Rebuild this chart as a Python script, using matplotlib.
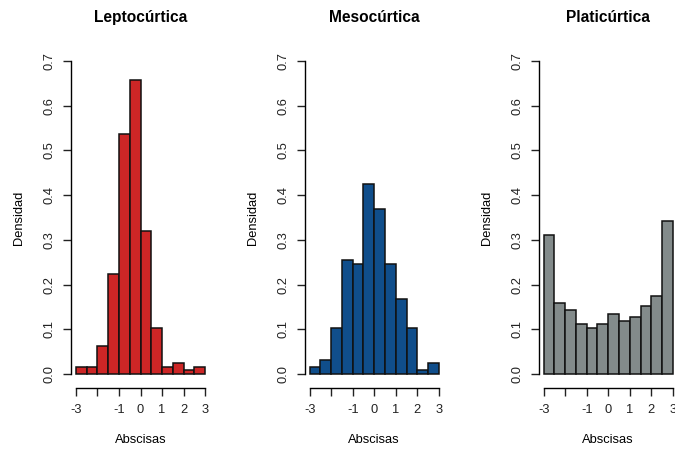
import numpy as np
import matplotlib
matplotlib.use("Agg")
from matplotlib import pyplot as plt

# histogram breaks (width 0.5) and densities
bins = np.arange(-3, 3.01, 0.5)
lepto = [0.016, 0.016, 0.063, 0.224, 0.537, 0.658, 0.320, 0.103, 0.016, 0.024, 0.008, 0.016]
meso = [0.016, 0.032, 0.103, 0.255, 0.247, 0.424, 0.368, 0.247, 0.167, 0.103, 0.008, 0.024]
plati = [0.311, 0.159, 0.143, 0.111, 0.103, 0.111, 0.135, 0.119, 0.127, 0.151, 0.175, 0.343]

titles = ["Leptocúrtica", "Mesocúrtica", "Platicúrtica"]
colors = ["#CD2626", "#104E8B", "#838B8B"]
xticks = [-3, -2, -1, 0, 1, 2, 3]
xlabels = ["-3", "", "-1", "0", "1", "2", "3"]
yticks = [0.0, 0.1, 0.2, 0.3, 0.4, 0.5, 0.6, 0.7]

plt.rcParams['font.family'] = ['Liberation Sans', 'DejaVu Sans']

W, H = 675, 453
fig = plt.figure(figsize=(W / 100, H / 100), dpi=100)

lefts = [70.8, 304.5, 538.5]
width = 139.5
top, bottom = 48.5, 386.5

for i, (vals, title, col) in enumerate(zip([lepto, meso, plati], titles, colors)):
    ax = fig.add_axes([lefts[i] / W, (H - bottom) / H, width / W, (bottom - top) / H])
    ax.bar(bins[:-1], vals, width=0.5, align='edge', color=col,
           edgecolor='#111111', linewidth=1.1)
    ax.set_xlim(-3.24, 3.24)
    ax.set_ylim(-0.028, 0.728)
    for s in ['top', 'right']:
        ax.spines[s].set_visible(False)
    ax.spines['left'].set_bounds(0, 0.7)
    ax.spines['bottom'].set_bounds(-3, 3)
    ax.spines['bottom'].set_position(('outward', 1))
    for s in ['left', 'bottom']:
        ax.spines[s].set_linewidth(1.0)
    ax.set_xticks(xticks)
    ax.set_xticklabels(xlabels)
    ax.set_yticks(yticks)
    ax.set_yticklabels([f"{v:.1f}" for v in yticks], rotation=90, va='center')
    ax.tick_params(axis='both', length=5.5, width=1.0, labelsize=9.3,
                   colors='#222222', pad=6)
    ax.tick_params(axis='y', pad=5.5)
    ax.set_title(title, fontsize=11.2, fontweight='bold', pad=19)
    ax.set_xlabel("Abscisas", fontsize=9.3, labelpad=13)
    ax.set_ylabel("Densidad", fontsize=9.3, labelpad=13)

fig.savefig("out.png", dpi=100)
